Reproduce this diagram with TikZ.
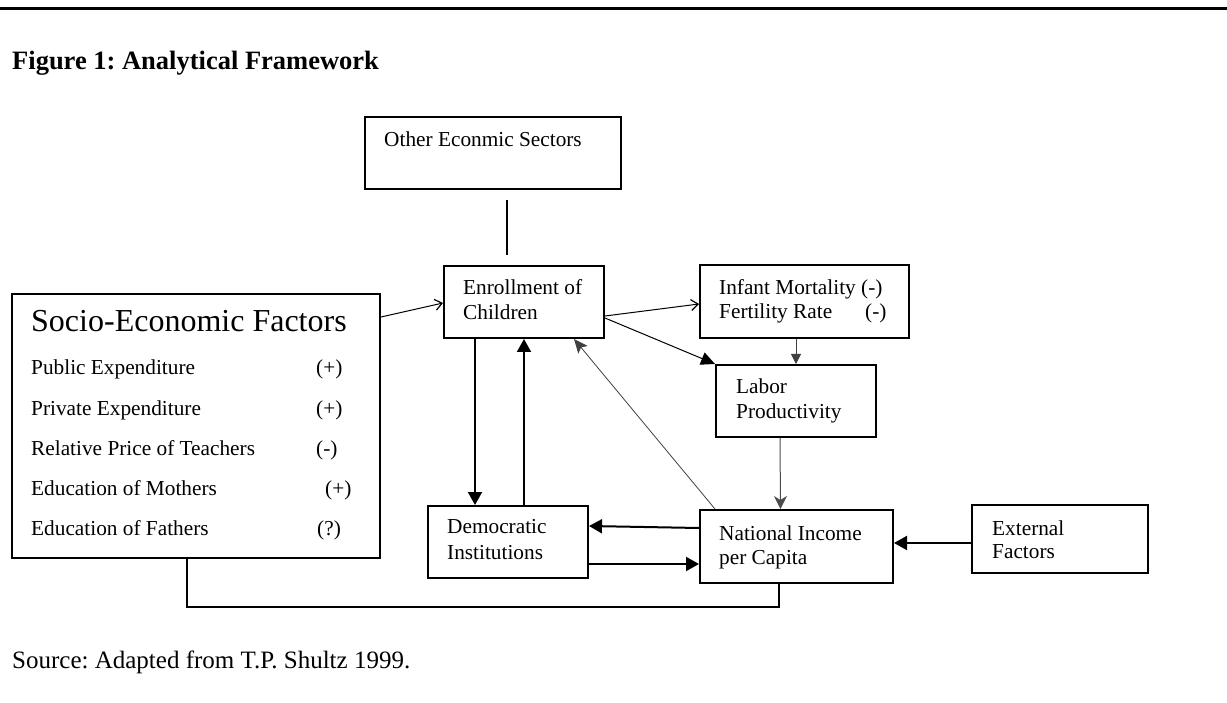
\documentclass[tikz,border=0pt]{standalone}
\usepackage{fontspec}
\setmainfont{Liberation Serif}
\usetikzlibrary{arrows.meta,calc}
\frenchspacing
\begin{document}
\begin{tikzpicture}[x=1pt,y=-1pt,
  box/.style={draw,line width=2pt,inner sep=0pt,anchor=north west},
  txt/.style={anchor=base west,inner sep=0pt,font=\fontsize{21.3}{24.5}\selectfont},
  bigtxt/.style={anchor=base west,inner sep=0pt,font=\fontsize{32}{36}\selectfont},
  thickarrow/.style={line width=2pt,-{Triangle[length=13pt,width=14pt]}},
  thinarrow/.style={line width=1pt,-{Straight Barb[length=7pt,width=11pt,line width=1.2pt]}},
  plainline/.style={line width=2pt}
]
\useasboundingbox (0,0) rectangle (1227,703);
% top rule
\coordinate (ruleL) at (0,8.5);
\coordinate (ruleR) at (1227,8.5);
\draw[line width=3pt] (ruleL) -- (ruleR);
% title
\node[anchor=base west,inner sep=0pt,font=\fontsize{26.5}{30}\selectfont\bfseries] (title) at (12,70) {Figure 1: Analytical Framework};
% boxes
\node[box,minimum width=256pt,minimum height=72pt] (oth) at (364,116) {};
\node[box,minimum width=160pt,minimum height=72pt] (enr) at (443,265) {};
\node[box,minimum width=209pt,minimum height=73pt] (inf) at (699,264) {};
\node[box,minimum width=160pt,minimum height=72pt] (lab) at (715,364) {};
\node[box,minimum width=160pt,minimum height=72pt] (dem) at (427,505) {};
\node[box,minimum width=193pt,minimum height=73pt] (nat) at (699,509) {};
\node[box,minimum width=176pt,minimum height=68pt] (ext) at (971,504) {};
\node[box,minimum width=368pt,minimum height=264pt] (soc) at (11,293) {};
% texts
\node[txt] (othT) at (384,147) {Other Econmic Sectors};
\node[txt] (enrT1) at (463,295) {Enrollment of};
\node[txt] (enrT2) at (463,320) {Children};
\node[txt] (infT1) at (719,295) {Infant Mortality (-)};
\node[txt] (infT2) at (719,319) {Fertility Rate};
\node[txt] (infT3) at (865,319) {(-)};
\node[txt] (labT1) at (736,394) {Labor};
\node[txt] (labT2) at (736,418) {Productivity};
\node[txt] (demT1) at (447,533) {Democratic};
\node[txt] (demT2) at (447,559) {Institutions};
\node[txt] (natT1) at (719,540) {National Income};
\node[txt] (natT2) at (719,564) {per Capita};
\node[txt] (extT1) at (992,535) {External};
\node[txt] (extT2) at (992,558) {Factors};
\node[bigtxt] (socT) at (31,332) {Socio-Economic Factors};
\node[txt] (s1) at (31,375) {Public Expenditure};
\node[txt] (s2) at (31,415) {Private Expenditure};
\node[txt] (s3) at (31,455) {Relative Price of Teachers};
\node[txt] (s4) at (31,495) {Education of Mothers};
\node[txt] (s5) at (31,535) {Education of Fathers};
\node[txt] (p1) at (316,375) {(+)};
\node[txt] (p2) at (316,415) {(+)};
\node[txt] (p3) at (316,455) {(-)};
\node[txt] (p4) at (325,495) {(+)};
\node[txt] (p5) at (317,535) {(?)};
\node[anchor=base west,inner sep=0pt,font=\fontsize{25}{29}\selectfont] (src) at (12,668) {Source: Adapted from T.P. Shultz 1999.};
% connectors
\coordinate (othx) at (507,0);
\draw[plainline,shorten <=10pt,shorten >=10pt] (oth.south -| othx) -- (enr.north -| othx);
\draw[thinarrow] ($(soc.north east)+(0,24)$) -- ($(enr.north west)+(0,38)$);
\draw[thinarrow] ($(enr.north east)+(0,51)$) -- ($(inf.north west)+(0,40)$);
\draw[line width=1pt,-{Triangle[length=14pt,width=13pt]}] ($(enr.north east)+(0,53)$) -- (lab.north west);
\draw[line width=1pt,black!75,-{Triangle[length=10pt,width=10pt]}] (inf.south -| lab.north) -- (lab.north);
\draw[line width=1pt,black!70,-{Stealth[length=13pt,width=13pt,inset=4pt]}] ($(lab.south)+(-16,0)$) -- ($(nat.north)+(-16,0)$);
\draw[line width=0.8pt,black!75,-{Stealth[length=14pt,width=12pt,inset=3pt]}] ($(nat.north west)+(16,0)$) -- ($(enr.south east)+(-31,0)$);
\draw[thickarrow] ($(enr.south west)+(32,0)$) -- ($(dem.north west)+(48,0)$);
\draw[thickarrow] (enr.south |- dem.north) -- (enr.south);
\draw[thickarrow] ($(nat.north west)+(0,19)$) -- ($(dem.north east)+(0,21)$);
\draw[thickarrow] ($(dem.north east)+(0,59)$) -- ($(nat.north west)+(0,55)$);
\draw[thickarrow] ($(ext.north west)+(0,39)$) -- ($(nat.north east)+(0,34)$);
\draw[plainline] ($(soc.south west)+(176,0)$) -- ++(0,48) -| ($(nat.south west)+(80,0)$);
\end{tikzpicture}
\end{document}
